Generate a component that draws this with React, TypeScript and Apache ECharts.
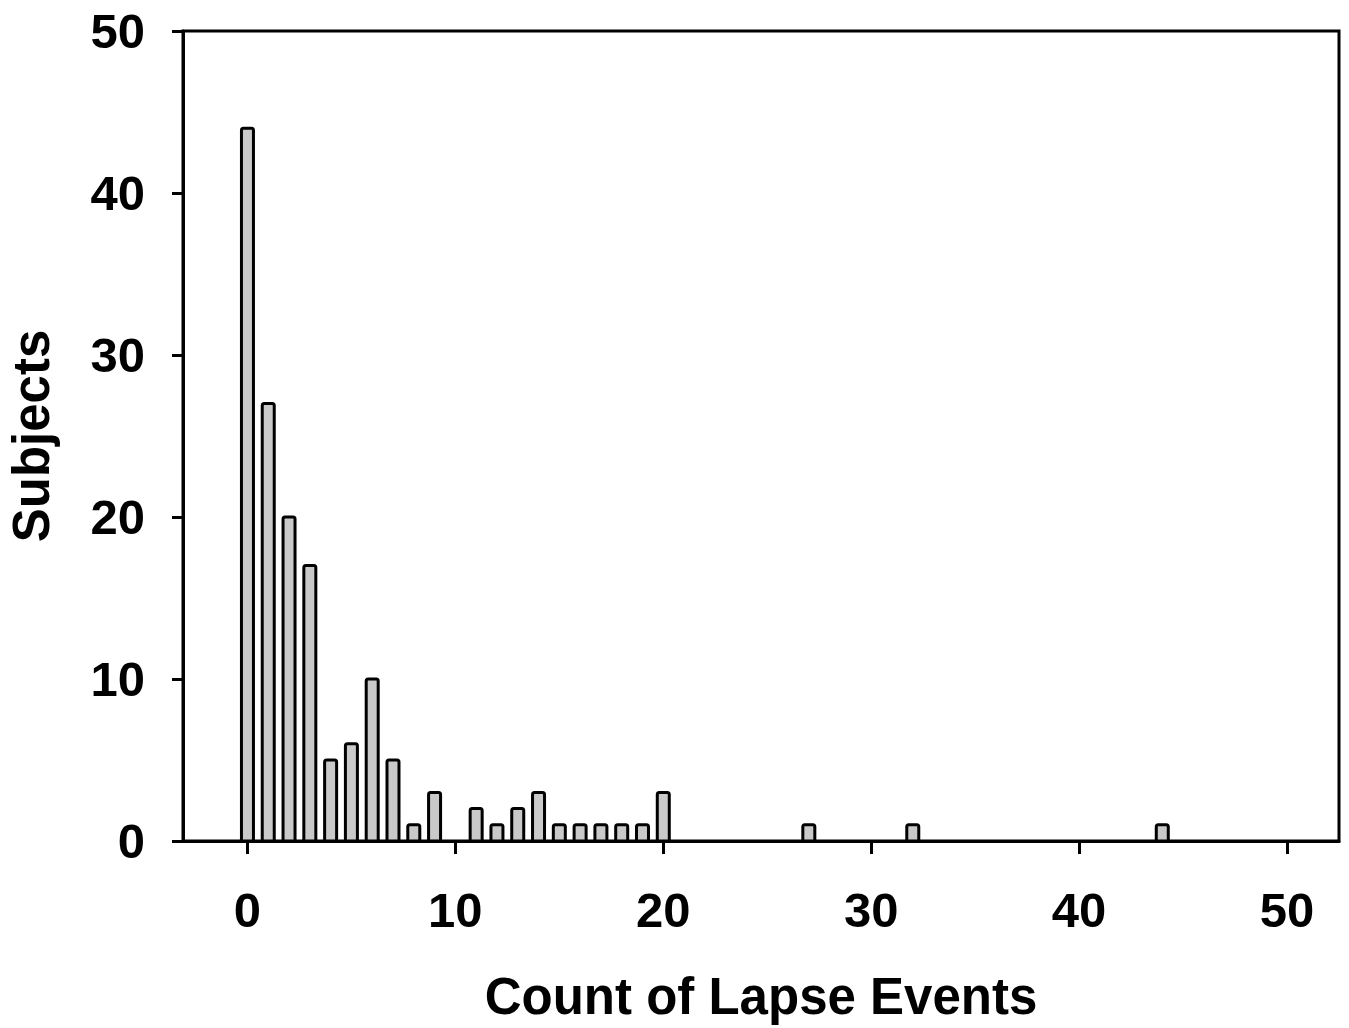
import React, { useEffect, useRef } from "react";
import * as echarts from "echarts";

const lapseCounts = [0, 1, 2, 3, 4, 5, 6, 7, 8, 9, 11, 12, 13, 14, 15, 16, 17, 18, 19, 20, 27, 32, 44];
const subjects = [44, 27, 20, 17, 5, 6, 10, 5, 1, 3, 2, 1, 2, 3, 1, 1, 1, 1, 1, 3, 1, 1, 1];
const xTicks = [0, 10, 20, 30, 40, 50];

const FONT = '"Liberation Sans", Arial, Helvetica, sans-serif';

export default function App() {
  const ref = useRef<HTMLDivElement>(null);
  useEffect(() => {
    if (!ref.current) return;
    const chart = echarts.init(ref.current, null, { renderer: "svg" });
    const data = lapseCounts.map((x, i) => [x, subjects[i]]);
    chart.setOption({
      animation: false,
      backgroundColor: "#ffffff",
      grid: {
        left: 183,
        right: 10,
        top: 31,
        bottom: 187,
        containLabel: false,
        outerBoundsMode: "none",
        show: true,
        borderColor: "#000",
        borderWidth: 3,
        backgroundColor: "transparent",
      },
      xAxis: {
        type: "value",
        min: -3.1,
        max: 52.5,
        name: "Count of Lapse Events",
        nameLocation: "middle",
        nameGap: 130,
        nameTextStyle: { fontFamily: FONT, fontWeight: "bold", fontSize: 51, color: "#000" },
        axisLine: { show: true, onZero: false, lineStyle: { color: "#000", width: 3 } },
        axisTick: { show: true, inside: false, length: 13, customValues: xTicks, lineStyle: { color: "#000", width: 3 } },
        axisLabel: {
          customValues: xTicks,
          margin: 44,
          fontFamily: FONT,
          fontWeight: "bold",
          fontSize: 49,
          color: "#000",
        },
        splitLine: { show: false },
      },
      yAxis: {
        type: "value",
        min: 0,
        max: 50,
        interval: 10,
        name: "Subjects",
        nameLocation: "middle",
        nameGap: 126,
        nameTextStyle: { fontFamily: FONT, fontWeight: "bold", fontSize: 51, color: "#000" },
        axisLine: { show: true, onZero: false, lineStyle: { color: "#000", width: 3 } },
        axisTick: { show: true, inside: false, length: 11, lineStyle: { color: "#000", width: 3 } },
        axisLabel: {
          margin: 38,
          fontFamily: FONT,
          fontWeight: "bold",
          fontSize: 49,
          color: "#000",
        },
        splitLine: { show: false },
      },
      series: [
        {
          type: "custom",
          data,
          clip: false,
          renderItem: (params: any, api: any) => {
            const x = api.value(0);
            const y = api.value(1);
            const top = api.coord([x, y]);
            const base = api.coord([x, 0]);
            const w = 12;
            return {
              type: "rect",
              shape: { x: top[0] - w / 2, y: top[1], width: w, height: base[1] - top[1], r: [2, 2, 0, 0] },
              style: { fill: "#c9c9c9", stroke: "#000", lineWidth: 3 },
            };
          },
        },
      ],
    });
    return () => chart.dispose();
  }, []);
  return (
    <div
      ref={ref}
      style={{ position: "fixed", left: 0, top: 0, width: 1349, height: 1028, background: "#fff" }}
    />
  );
}
